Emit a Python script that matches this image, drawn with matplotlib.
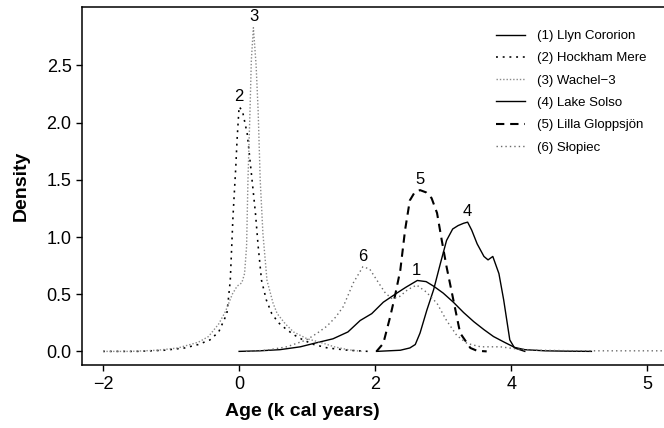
import matplotlib
matplotlib.use("Agg")
import matplotlib.pyplot as plt

plt.rcParams['font.family'] = ['Liberation Sans', 'DejaVu Sans']

# ---- data ----
names = ["(1) Llyn Cororion", "(2) Hockham Mere", "(3) Wachel\u22123",
         "(4) Lake Solso", "(5) Lilla Gloppsjön", "(6) Słopiec"]

x1 = [0.0, 0.3, 0.6, 0.9, 1.1, 1.38, 1.6, 1.78, 1.95, 2.12, 2.32, 2.45, 2.62, 2.75, 2.86,
      3.0, 3.15, 3.3, 3.45, 3.6, 3.74, 3.9, 4.05, 4.2, 4.5, 4.8, 5.18]
y1 = [0.0, 0.005, 0.015, 0.04, 0.07, 0.11, 0.17, 0.27, 0.33, 0.43, 0.51, 0.56, 0.62, 0.61, 0.57,
      0.51, 0.43, 0.34, 0.26, 0.19, 0.13, 0.08, 0.035, 0.015, 0.005, 0.002, 0.0]

x2 = [-2.0, -1.5, -1.1, -0.8, -0.6, -0.43, -0.3, -0.18, -0.13, -0.09, -0.05, -0.03, 0.0,
      0.05, 0.12, 0.19, 0.24, 0.28, 0.33, 0.4, 0.48, 0.58, 0.7, 0.82, 0.94, 1.1, 1.3, 1.6, 1.9]
y2 = [0.0, 0.0, 0.01, 0.03, 0.06, 0.1, 0.17, 0.33, 0.62, 1.18, 1.6, 1.85, 2.14,
      2.1, 1.9, 1.5, 1.21, 0.92, 0.62, 0.45, 0.33, 0.25, 0.19, 0.14, 0.1, 0.06, 0.03, 0.01, 0.0]

x3 = [-2.0, -1.6, -1.2, -0.9, -0.6, -0.45, -0.3, -0.2, -0.1, -0.03, 0.04, 0.08, 0.11, 0.13,
      0.16, 0.18, 0.21, 0.25, 0.28, 0.31, 0.35, 0.41, 0.5, 0.56, 0.68, 0.8, 1.0, 1.19, 1.4, 1.6, 1.8]
y3 = [0.0, 0.0, 0.01, 0.03, 0.08, 0.13, 0.24, 0.35, 0.5, 0.57, 0.6, 0.68, 0.92, 1.5,
      2.1, 2.55, 2.83, 2.5, 2.1, 1.5, 1.03, 0.62, 0.42, 0.33, 0.24, 0.17, 0.11, 0.08, 0.04, 0.015, 0.0]

x4 = [2.02, 2.37, 2.51, 2.59, 2.66, 2.76, 2.86, 2.96, 3.05, 3.14, 3.22, 3.3, 3.36, 3.42, 3.5,
      3.6, 3.66, 3.73, 3.82, 3.89, 3.98, 4.05, 4.2]
y4 = [0.0, 0.01, 0.03, 0.06, 0.16, 0.36, 0.54, 0.77, 0.97, 1.07, 1.1, 1.12, 1.13, 1.06, 0.94,
      0.83, 0.8, 0.83, 0.68, 0.45, 0.1, 0.03, 0.0]

x5 = [2.02, 2.12, 2.22, 2.29, 2.37, 2.44, 2.51, 2.58, 2.66, 2.75, 2.83, 2.91, 2.98, 3.05,
      3.15, 3.25, 3.4, 3.5, 3.64]
y5 = [0.0, 0.07, 0.3, 0.48, 0.71, 1.06, 1.32, 1.39, 1.41, 1.39, 1.34, 1.21, 0.97, 0.74,
      0.45, 0.16, 0.03, 0.005, 0.0]

x6 = [0.1, 0.4, 0.7, 0.99, 1.15, 1.29, 1.42, 1.53, 1.68, 1.82, 1.92, 2.05, 2.15, 2.25, 2.36,
      2.48, 2.61, 2.75, 2.91, 3.05, 3.2, 3.35, 3.55, 3.84, 4.1, 4.4, 5.0, 5.6, 6.4]
y6 = [0.0, 0.01, 0.04, 0.1, 0.16, 0.22, 0.3, 0.39, 0.6, 0.74, 0.72, 0.6, 0.51, 0.46, 0.48,
      0.54, 0.58, 0.52, 0.42, 0.27, 0.14, 0.07, 0.04, 0.04, 0.02, 0.01, 0.005, 0.005, 0.005]

peak_labels = ["1", "2", "3", "4", "5", "6"]
peak_x = [2.6, -0.01, 0.22, 3.35, 2.66, 1.82]
peak_y = [0.71, 2.23, 2.93, 1.22, 1.50, 0.83]

xtick_pos = [-2, 0, 2, 4, 6]
xtick_lab = ["\u22122", "0", "2", "4", "5"]
ytick_pos = [0.0, 0.5, 1.0, 1.5, 2.0, 2.5]

# ---- figure ----
W, H = 664, 428
fig = plt.figure(figsize=(W / 100, H / 100), dpi=100)
ax = fig.add_axes([82 / W, 63 / H, (688 - 82) / W, (365 - 7) / H])

styles = [
    dict(color="black", lw=1.0, linestyle="-"),
    dict(color="black", lw=1.15, linestyle=(0, (1.2, 3.0))),
    dict(color="#8a8a8a", lw=1.0, linestyle=(0, (1.0, 1.4))),
    dict(color="black", lw=1.0, linestyle="-"),
    dict(color="black", lw=1.5, linestyle=(0, (4.0, 2.8))),
    dict(color="#6a6a6a", lw=1.0, linestyle=(0, (1.0, 2.2))),
]
xs = [x1, x2, x3, x4, x5, x6]
ys = [y1, y2, y3, y4, y5, y6]
for xx, yy, st, nm in zip(xs, ys, styles, names):
    ax.plot(xx, yy, label=nm, **st)

for t, px, py in zip(peak_labels, peak_x, peak_y):
    ax.text(px, py, t, ha="center", va="center", fontsize=12)

ax.set_xlim(-2.31, 6.6)
ax.set_ylim(-0.119, 3.011)
ax.set_xticks(xtick_pos)
ax.set_xticklabels(xtick_lab)
ax.set_yticks(ytick_pos)
ax.set_yticklabels([f"{v:.1f}" for v in ytick_pos])
ax.tick_params(axis="x", direction="out", length=4, width=1, labelsize=13, pad=4)
ax.tick_params(axis="y", direction="out", length=4.5, width=1, labelsize=13, pad=3)
for s in ["left", "bottom", "top"]:
    ax.spines[s].set_linewidth(1.1)
ax.spines["right"].set_visible(False)

ax.set_ylabel("Density", fontsize=14, fontweight="bold", labelpad=12)
fig.text(302 / W, 1 - 412 / H, "Age (k cal years)", ha="center", va="center",
         fontsize=14, fontweight="bold")

leg = ax.legend(loc="upper left", bbox_to_anchor=(496 / W, 1 - 30 / H),
                bbox_transform=fig.transFigure, frameon=False, fontsize=9.5,
                handlelength=2.2, handletextpad=0.9, labelspacing=0.76,
                borderaxespad=0, borderpad=0)

fig.savefig("out.png", dpi=100)
